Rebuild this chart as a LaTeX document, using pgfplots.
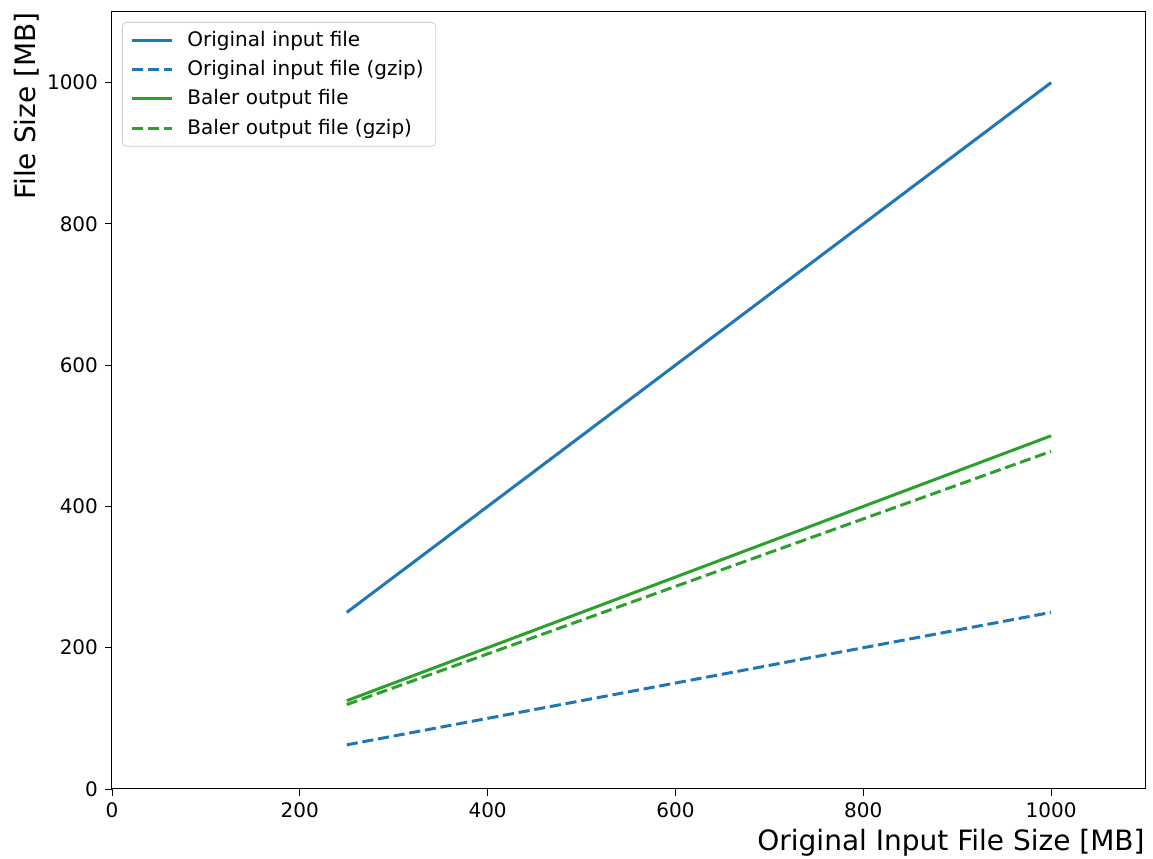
\documentclass[border=0pt]{standalone}
\usepackage{fontspec}
\setmainfont{DejaVu Sans}
\usepackage{pgfplots}
\pgfplotsset{compat=1.18}
\definecolor{tabblue}{HTML}{1F77B4}
\definecolor{tabgreen}{HTML}{2CA02C}
\begin{document}
\begin{tikzpicture}
\begin{axis}[
  scale only axis,
  width=516.5pt, height=388.5pt,
  xmin=0, xmax=1100, ymin=0, ymax=1100,
  xtick={0,200,400,600,800,1000},
  ytick={0,200,400,600,800,1000},
  minor tick num=0,
  tick align=outside,
  tick pos=left,
  major tick length=3.5pt,
  every tick/.style={black, line width=0.4pt},
  axis line style={line width=0.5pt},
  tick label style={font=\fontsize{10}{12}\selectfont},
  /pgf/number format/assume math mode=true,
  /pgf/number format/1000 sep={},
  xlabel={Original Input File Size [MB]},
  ylabel={File Size [MB]},
  label style={font=\fontsize{14}{16}\selectfont},
  xlabel style={at={(axis description cs:1,0)}, anchor=north east, yshift=-20pt, inner sep=0pt},
  ylabel style={at={(axis description cs:0,1)}, anchor=south east, rotate=0, yshift=36pt, inner sep=0pt},
  legend style={at={(0,1)}, anchor=north west, xshift=5pt, yshift=-5pt,
    draw=black!20, rounded corners=2pt, fill=white, fill opacity=0.8, text opacity=1,
    font=\fontsize{10}{12}\selectfont, row sep=1.5pt, inner xsep=4pt, inner ysep=2.5pt},
  legend cell align=left,
  legend image code/.code={\draw[#1] (0pt,0pt) -- (20pt,0pt); \path (25pt,0pt);},
  every axis plot/.append style={line width=1.5pt},
]
\addplot[tabblue, solid] coordinates {(250,250) (500,500) (750,750) (1000,1000)};
\addlegendentry{Original input file}
\addplot[tabblue, dash pattern=on 5.55pt off 2.4pt] coordinates {(250,62.5) (500,125) (750,187.5) (1000,250)};
\addlegendentry{Original input file (gzip)}
\addplot[tabgreen, solid] coordinates {(250,125) (500,250) (750,375) (1000,500)};
\addlegendentry{Baler output file}
\addplot[tabgreen, dash pattern=on 5.55pt off 2.4pt] coordinates {(250,119.5) (500,239) (750,358.5) (1000,478)};
\addlegendentry{Baler output file (gzip)}
\end{axis}
\path (current axis.south west) ++(-56pt,-35pt) coordinate (bbA);
\path (current axis.north east) ++(4pt,6pt) coordinate (bbB);
\useasboundingbox (bbA) rectangle (bbB);
\end{tikzpicture}
\end{document}
